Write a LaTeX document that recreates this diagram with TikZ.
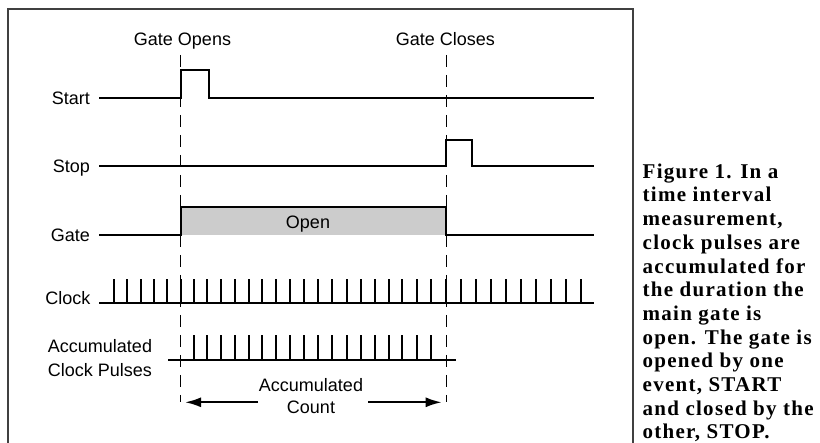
\documentclass[tikz,border=0pt]{standalone}
\usepackage{fontspec}
\setmainfont{Liberation Sans}
\newfontfamily\capfont[LetterSpace=6]{Liberation Serif}
\usetikzlibrary{arrows.meta}
\begin{document}
\begin{tikzpicture}[x=1pt,y=-1pt,
  sig/.style={line width=2pt, line join=miter},
  pulse/.style={line width=2pt},
  guide/.style={line width=1pt, dash pattern=on 12pt off 8pt},
  lbl/.style={font=\fontsize{18}{24}\selectfont, inner sep=0pt},
  framebox/.style={line width=1.3pt, draw=black!75},
  arr/.style={line width=2pt, -{Latex[length=16pt,width=10pt]}},
  captxt/.style={font=\capfont\bfseries\fontsize{21}{23.7}\selectfont, inner sep=0pt, align=left}
]
\useasboundingbox (0,0) rectangle (820,443);
\fill[white] (0,0) rectangle (820,443);
% frame
\draw[framebox] (8,450) -- (8,9) -- (633,9) -- (633,450);
% guides
\coordinate (go1) at (180.5,55); \coordinate (go2) at (180.5,402);
\coordinate (gc1) at (446,55);   \coordinate (gc2) at (446,402);
\draw[guide] (go1) -- (go2);
\draw[guide] (gc1) -- (gc2);
% labels top
\node[lbl, anchor=base] (tOpen) at (182.5,45.8) {Gate Opens};
\node[lbl, anchor=base] (tClose) at (445.5,45.8) {Gate Closes};
% start
\node[lbl, anchor=base east] (lStart) at (90,104.3) {Start};
\draw[sig] (99,98) -- (180.5,98) -- (180.5,70) -- (209,70) -- (209,98) -- (594,98);
% stop
\node[lbl, anchor=base east] (lStop) at (90,172.3) {Stop};
\draw[sig] (99,166) -- (446,166) -- (446,140) -- (472,140) -- (472,166) -- (594,166);
% gate
\fill[black!20] (180.5,207.5) rectangle (446,235);
\draw[sig] (99,235) -- (180.5,235) -- (180.5,207.5) -- (446,207.5) -- (446,235) -- (594,235);
\node[lbl, anchor=base east] (lGate) at (90,241.3) {Gate};
\node[lbl, anchor=base] (tOpenBox) at (308,228.2) {Open};
% clock
\node[lbl, anchor=base east] (lClock) at (90.7,304.5) {Clock};
\draw[sig] (99,303) -- (594,303);
\foreach \x in {114,127.3,140.7,154,166.7,180.5,194,207.3,221,235,249,262.3,276,290,304,317.7,331.7,346.5,361,375,389,402.3,416.7,431,446,461,476,491,506,521,536,551,566,581}
  \draw[pulse] (\x,303) -- (\x,279);
% accumulated
\node[lbl, font=\fontsize{18}{23.7}\selectfont, align=center, anchor=base] (lAcc) at (100,376.7) {Accumulated\\Clock Pulses};
\draw[sig] (168,360) -- (456,360);
\foreach \x in {194,207.3,221,235,249,262.3,276,290,304,317.7,331.7,346.5,361,375,389,402.3,416.7,431}
  \draw[pulse] (\x,360) -- (\x,335);
% count
\node[lbl, font=\fontsize{18}{22}\selectfont, align=center, anchor=base] (lCount) at (311,414) {Accumulated\\Count};
\coordinate (aL0) at (258,402.3); \coordinate (aL1) at (185,402.3);
\coordinate (aR0) at (368,402.3); \coordinate (aR1) at (441.7,402.3);
\draw[arr] (aL0) -- (aL1);
\draw[arr] (aR0) -- (aR1);
% caption
\node[captxt, anchor=base west] (caption) at (642.5,439) {Figure 1. In a\\time interval\\measurement,\\clock pulses are\\accumulated for\\the duration the\\main gate is\\open. The gate is\\opened by one\\event, START\\and closed by the\\other, STOP.};
\end{tikzpicture}
\end{document}
